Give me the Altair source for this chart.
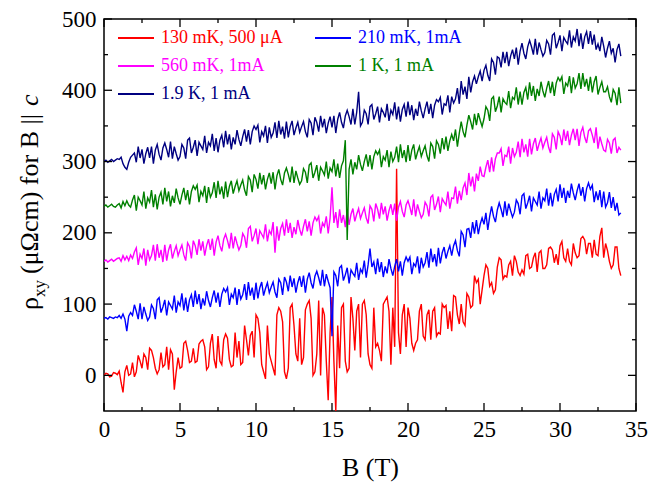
import altair as alt
import pandas as pd

# ---------------- data (rho_xy in µΩcm, sampled every 0.125 T from 0 to 34 T) ----------------
STEP = 0.125

series_names = ["130 mK, 500 \u03bcA", "210 mK, 1mA", "560 mK, 1mA", "1 K, 1 mA", "1.9 K, 1 mA"]
series_colors = ["#ff0000", "#0000ff", "#ff00ff", "#008000", "#000080"]

rho_130mK = [
    0, 3, 2, -2, -1, 4, 3, 1,
    6, -10, -24, 5, 14, 0, 2, 18,
    -2, 5, 28, 20, 10, 30, 25, 8,
    38, 35, 25, 10, 2, 8, 32, 12,
    15, 40, 8, 36, 30, -20, 5, 25,
    10, 12, 45, 48, 35, 18, 20, 38,
    18, 20, 44, 48, 50, 40, 8, 12,
    45, 58, 22, 10, 55, 20, 15, 50,
    58, 52, 22, 12, 14, 60, 25, 48,
    15, 18, 70, 50, 28, 56, 62, 25,
    85, 80, 60, 15, 5, -5, 70, 30,
    20, 10, 0, 85, 95, 90, 75, 5,
    -5, 10, 95, 100, 70, 30, 20, 80,
    15, 25, 92, 100, 105, 80, 0, 5,
    30, 105, 0, 95, 85, 20, -35, 60,
    110, 20, -50, 70, 10, 95, 100, 20,
    5, 10, 110, 80, 35, 90, 100, 25,
    100, 105, 85, 30, 15, 10, 95, 40,
    45, 35, 20, 100, 105, 110, 90, 15,
    95, 40, 290, 60, 30, 85, 100, 40,
    95, 80, 45, 35, 45, 50, 90, 100,
    55, 50, 85, 92, 50, 90, 95, 55,
    60, 58, 100, 95, 98, 65, 90, 62,
    112, 110, 85, 72, 100, 75, 70, 115,
    110, 95, 98, 140, 130, 135, 100, 120,
    140, 155, 150, 125, 130, 115, 120, 152,
    165, 162, 135, 140, 138, 155, 160, 140,
    168, 160, 145, 140, 148, 142, 168, 170,
    150, 152, 165, 172, 145, 172, 175, 150,
    150, 155, 178, 180, 176, 158, 170, 155,
    182, 188, 165, 160, 178, 160, 155, 185,
    172, 165, 168, 192, 195, 190, 170, 185,
    185, 165, 190, 170, 168, 195, 207, 165,
    185, 175, 160, 150, 155, 180, 180, 150,
    140,
]
rho_210mK = [
    80, 81, 79, 82, 81, 80, 82, 81,
    84, 80, 86, 79, 62, 83, 88, 84,
    99, 90, 79, 101, 79, 96, 86, 77,
    82, 99, 94, 79, 106, 109, 88, 96,
    106, 84, 103, 98, 93, 112, 88, 103,
    98, 115, 91, 109, 89, 106, 113, 96,
    119, 100, 114, 93, 108, 98, 118, 105,
    96, 109, 119, 102, 116, 96, 114, 122,
    117, 123, 99, 114, 109, 123, 99, 121,
    107, 113, 128, 106, 131, 112, 123, 106,
    130, 108, 123, 131, 112, 122, 130, 116,
    124, 131, 117, 109, 135, 130, 113, 138,
    131, 118, 140, 124, 136, 116, 130, 139,
    124, 140, 116, 135, 144, 130, 122, 139,
    146, 137, 126, 148, 125, 142, 132, 123,
    55, 145, 140, 125, 151, 154, 133, 141,
    151, 129, 148, 143, 139, 158, 134, 149,
    144, 161, 137, 155, 178, 152, 159, 142,
    164, 145, 159, 138, 153, 143, 163, 150,
    140, 153, 163, 146, 160, 140, 158, 166,
    160, 166, 142, 157, 153, 167, 143, 165,
    152, 158, 173, 151, 178, 159, 170, 153,
    179, 157, 172, 180, 164, 174, 182, 168,
    182, 189, 175, 167, 202, 197, 180, 205,
    206, 193, 215, 199, 218, 198, 212, 221,
    212, 228, 204, 223, 237, 223, 215, 232,
    242, 233, 222, 244, 224, 241, 231, 222,
    229, 246, 241, 226, 252, 255, 234, 242,
    252, 230, 249, 244, 239, 258, 234, 249,
    245, 262, 238, 256, 237, 254, 261, 244,
    268, 249, 263, 242, 259, 249, 269, 256,
    246, 259, 269, 252, 264, 244, 262, 270,
    261, 267, 243, 258, 246, 260, 236, 258,
    236, 242, 257, 235, 250, 231, 242, 225,
    228,
]
rho_560mK = [
    160, 162, 159, 161, 163, 160, 162, 164,
    165, 160, 168, 162, 167, 161, 169, 164,
    173, 179, 155, 170, 164, 178, 154, 176,
    162, 168, 183, 161, 184, 165, 176, 159,
    183, 161, 176, 184, 164, 174, 182, 168,
    176, 183, 169, 161, 186, 181, 164, 189,
    182, 169, 191, 175, 188, 168, 182, 191,
    176, 192, 168, 187, 196, 182, 174, 191,
    198, 189, 178, 200, 178, 195, 185, 176,
    182, 199, 194, 179, 206, 209, 188, 196,
    206, 184, 203, 198, 193, 212, 188, 203,
    198, 215, 172, 209, 189, 206, 213, 196,
    219, 200, 214, 193, 208, 198, 218, 205,
    196, 209, 219, 202, 216, 196, 214, 222,
    217, 223, 199, 214, 209, 223, 199, 221,
    264, 214, 229, 207, 233, 214, 225, 208,
    233, 211, 226, 234, 216, 226, 234, 220,
    228, 235, 221, 213, 238, 233, 216, 241,
    233, 220, 242, 226, 237, 217, 231, 240,
    225, 241, 217, 236, 244, 230, 222, 239,
    245, 236, 225, 247, 223, 240, 230, 221,
    226, 243, 238, 223, 250, 253, 232, 240,
    251, 229, 248, 243, 239, 258, 234, 249,
    248, 265, 241, 259, 246, 263, 270, 253,
    284, 265, 279, 258, 283, 273, 293, 280,
    279, 292, 302, 285, 306, 286, 304, 312,
    312, 318, 294, 309, 307, 321, 297, 319,
    307, 313, 328, 306, 332, 313, 324, 307,
    332, 310, 325, 333, 315, 325, 333, 319,
    327, 334, 320, 312, 339, 334, 317, 342,
    336, 323, 345, 329, 343, 323, 337, 346,
    330, 346, 322, 341, 348, 334, 326, 343,
    346, 337, 326, 348, 318, 335, 325, 316,
    314, 331, 326, 311, 330, 333, 312, 320,
    316,
]
rho_1K = [
    237, 239, 236, 238, 240, 237, 236, 239,
    241, 235, 244, 238, 245, 239, 236, 246,
    253, 231, 250, 245, 239, 258, 234, 249,
    243, 260, 236, 254, 233, 250, 257, 240,
    263, 244, 258, 237, 252, 242, 262, 249,
    240, 253, 263, 246, 260, 240, 258, 266,
    261, 267, 243, 258, 252, 266, 242, 264,
    250, 256, 271, 249, 273, 254, 265, 248,
    272, 250, 265, 273, 255, 265, 273, 259,
    267, 274, 260, 252, 279, 274, 257, 282,
    275, 262, 284, 268, 281, 261, 275, 284,
    269, 285, 261, 280, 289, 275, 267, 284,
    291, 282, 271, 293, 270, 287, 277, 268,
    273, 290, 285, 270, 295, 298, 277, 285,
    295, 273, 292, 287, 281, 300, 276, 291,
    286, 303, 279, 297, 277, 294, 301, 330,
    190, 289, 303, 282, 299, 289, 309, 296,
    287, 300, 310, 293, 309, 289, 307, 315,
    310, 316, 292, 307, 302, 316, 292, 314,
    300, 306, 321, 299, 324, 305, 316, 299,
    323, 301, 316, 324, 303, 313, 321, 307,
    315, 322, 308, 300, 326, 321, 304, 329,
    324, 311, 333, 317, 335, 315, 329, 338,
    329, 345, 321, 340, 356, 342, 334, 351,
    365, 356, 345, 367, 351, 368, 358, 349,
    360, 377, 372, 357, 388, 391, 370, 378,
    391, 369, 388, 383, 380, 399, 375, 390,
    387, 404, 380, 398, 380, 397, 404, 387,
    411, 392, 406, 385, 402, 392, 412, 399,
    390, 403, 413, 396, 412, 392, 410, 418,
    413, 419, 395, 410, 406, 420, 396, 418,
    403, 409, 424, 402, 424, 405, 416, 399,
    419, 397, 412, 420, 394, 404, 412, 398,
    398, 405, 391, 383, 401, 396, 379, 404,
    382,
]
rho_1p9K = [
    300, 302, 299, 301, 303, 300, 302, 304,
    303, 306, 297, 292, 289, 299, 306, 309,
    312, 299, 321, 305, 317, 297, 311, 320,
    305, 321, 297, 316, 324, 310, 302, 319,
    326, 317, 306, 328, 304, 321, 311, 302,
    307, 324, 319, 304, 330, 333, 312, 320,
    330, 308, 327, 322, 317, 336, 312, 327,
    322, 339, 315, 333, 313, 330, 337, 320,
    343, 324, 338, 317, 334, 324, 344, 331,
    322, 335, 345, 328, 344, 324, 342, 350,
    345, 351, 327, 342, 336, 350, 326, 348,
    334, 340, 355, 333, 357, 338, 349, 332,
    356, 334, 349, 357, 337, 347, 355, 341,
    349, 356, 342, 334, 359, 354, 337, 362,
    355, 342, 364, 348, 360, 340, 354, 363,
    348, 364, 340, 359, 369, 355, 347, 364,
    372, 363, 352, 374, 352, 369, 398, 350,
    355, 372, 367, 352, 377, 380, 359, 367,
    377, 355, 374, 369, 362, 381, 357, 372,
    366, 383, 359, 377, 356, 373, 380, 363,
    384, 365, 379, 358, 374, 364, 384, 371,
    361, 374, 384, 367, 381, 361, 379, 387,
    384, 390, 366, 381, 379, 393, 369, 391,
    382, 388, 403, 381, 413, 394, 405, 388,
    419, 397, 412, 420, 409, 419, 427, 413,
    428, 435, 421, 413, 444, 439, 422, 447,
    445, 432, 454, 438, 454, 434, 448, 457,
    444, 460, 436, 455, 466, 452, 444, 461,
    470, 461, 450, 472, 450, 467, 457, 448,
    453, 470, 465, 450, 477, 480, 459, 467,
    477, 455, 474, 469, 465, 484, 460, 475,
    469, 486, 462, 480, 458, 475, 482, 465,
    483, 464, 478, 457, 465, 455, 475, 462,
    446, 459, 469, 452, 459, 439, 457, 465,
    448,
]

x_major = [0, 5, 10, 15, 20, 25, 30, 35]
x_minor = [2.5, 7.5, 12.5, 17.5, 22.5, 27.5, 32.5]
y_major = [0, 100, 200, 300, 400, 500]
y_minor = [50, 150, 250, 350, 450]

# ---------------- frames ----------------
all_series = [rho_130mK, rho_210mK, rho_560mK, rho_1K, rho_1p9K]
rows = []
for name, vals in zip(series_names, all_series):
    for i, v in enumerate(vals):
        rows.append({"B": i * STEP, "rho": v, "series": name})
df = pd.DataFrame(rows)

W, H = 532, 392
FONT = "Liberation Serif"
xs = alt.Scale(domain=[0, 35], nice=False)
ys = alt.Scale(domain=[-50, 500], nice=False)

xaxis = alt.Axis(
    values=x_major, ticks=False, domain=False, grid=False, labelFlush=False,
    labelFont=FONT, labelFontSize=23, labelColor="black", labelPadding=7,
    title="B (T)", titleFont=FONT, titleFontSize=26, titleFontWeight="normal",
    titleColor="black", titlePadding=13)
yaxis = alt.Axis(
    values=y_major, ticks=False, domain=False, grid=False, labelFlush=False,
    labelFont=FONT, labelFontSize=23, labelColor="black", labelPadding=8,
    title=None)

lines = alt.Chart(df).mark_line(strokeWidth=1.4, clip=True).encode(
    x=alt.X("B:Q", scale=xs, axis=xaxis),
    y=alt.Y("rho:Q", scale=ys, axis=yaxis),
    color=alt.Color("series:N", scale=alt.Scale(domain=series_names, range=series_colors),
                    legend=alt.Legend(orient="none", legendX=13, legendY=0, columns=2,
                                      direction="horizontal",
                                      symbolType="stroke", symbolSize=1296, symbolStrokeWidth=2,
                                      labelFont=FONT, labelFontSize=18,
                                      labelColor=alt.ExprRef("scale('color', datum.value)"),
                                      rowPadding=-11.5, columnPadding=28, labelOffset=6,
                                      padding=0, title=None)),
)

def xticks(vals, length):
    d = pd.DataFrame({"B": vals})
    bot = alt.Chart(d).mark_rule(color="black", strokeWidth=1.3).encode(
        x=alt.X("B:Q", scale=xs, axis=xaxis), y=alt.value(H), y2=alt.value(H - length))
    top = alt.Chart(d).mark_rule(color="black", strokeWidth=1.3).encode(
        x=alt.X("B:Q", scale=xs, axis=xaxis), y=alt.value(0), y2=alt.value(length))
    return [bot, top]

def yticks(vals, length):
    d = pd.DataFrame({"rho": vals})
    left = alt.Chart(d).mark_rule(color="black", strokeWidth=1.3).encode(
        y=alt.Y("rho:Q", scale=ys, axis=yaxis), x=alt.value(0), x2=alt.value(length))
    right = alt.Chart(d).mark_rule(color="black", strokeWidth=1.3).encode(
        y=alt.Y("rho:Q", scale=ys, axis=yaxis), x=alt.value(W), x2=alt.value(W - length))
    return [left, right]

one = pd.DataFrame({"k": [0]})
def ttl(text, x, y, size, style="normal"):
    return alt.Chart(one).mark_text(text=text, angle=270, align="left", baseline="middle",
                                    font=FONT, fontSize=size, fontStyle=style, color="black").encode(
        x=alt.value(x), y=alt.value(y))

title_layers = [
    ttl("\u03c1", -74, 291, 26),
    ttl("xy", -64, 278, 17),
    ttl("(\u03bc\u03a9cm) for B || ", -74, 255, 26),
    ttl("c", -74, 87, 26, "italic"),
]

layers = [lines] + xticks(x_major, 8) + xticks(x_minor, 4) + yticks(y_major, 8) + yticks(y_minor, 4) + title_layers

chart = alt.layer(*layers).properties(
    width=W, height=H,
    autosize=alt.AutoSizeParams(type="none"),
    padding={"left": 96, "top": 11, "right": 14, "bottom": 74},
).configure_view(stroke="black", strokeWidth=1.5).configure_axis(
    labelFont=FONT, titleFont=FONT
).configure_legend(labelFont=FONT).configure_text(font=FONT)

chart.save("out.html", embed_options={"renderer": "svg", "actions": False})
